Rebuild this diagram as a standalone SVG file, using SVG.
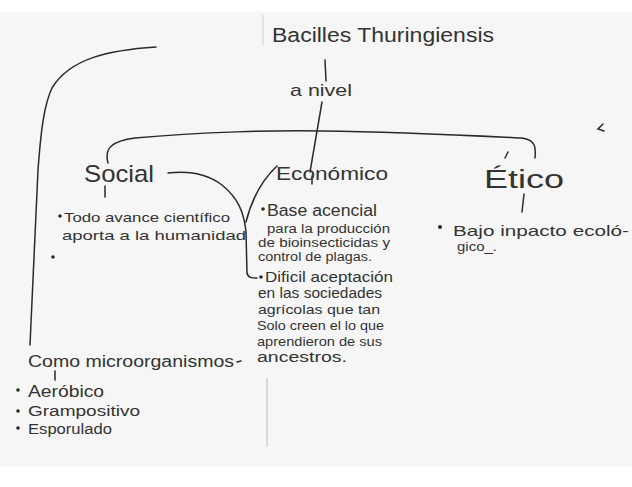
<svg xmlns="http://www.w3.org/2000/svg" width="632" height="487" viewBox="0 0 632 487">
<style>
text{font-family:"Liberation Sans","DejaVu Sans",sans-serif;fill:#333333}
.ln{fill:none;stroke:#2a2a2a;stroke-width:1.5;stroke-linecap:round}
.dot{fill:#2a2a2a}
</style>
<rect width="632" height="487" fill="#ffffff"/>
<rect x="0" y="12" width="632" height="455" fill="#f6f6f6"/>
<line x1="263" y1="15" x2="263" y2="45" stroke="#cfcfcf" stroke-width="1"/>
<line x1="267" y1="378" x2="267" y2="447" stroke="#c8c8c8" stroke-width="1.2"/>

<g id="connectors">
  <path class="ln" d="M156,47 C110,50 70,58 52,88 C44,105 41,130 38,170 L30,345"/>
  <path class="ln" d="M325,60 L326,81"/>
  <path class="ln" d="M322,102 L310,172"/>
  <path class="ln" d="M108,163 C104,148 112,141 135,138 C200,132 280,130 322,131 C400,132 480,136 522,138 C536,140 536,148 535,158"/>
  <path class="ln" d="M168,173 C185,171 205,172 222,185 C238,198 244,212 246,232 L247,273 C248,278 252,278 257,278"/>
  <path class="ln" d="M277,166 C262,180 252,198 246,222"/>
  <path class="ln" d="M105,186 L105,197"/>
  <path class="ln" d="M312,176 L312,184"/>
  <path class="ln" d="M524,194 L522,212"/>
  <path class="ln" d="M55,371 L55,380"/>
  <path class="ln" d="M237,362 L241,361"/>
  <path class="ln" d="M603,124 L598,129 L604,131"/>
  <path class="ln" d="M505,158 L508,152"/>
</g>

<g id="title"><text x="272" y="42" font-size="20" textLength="222" lengthAdjust="spacingAndGlyphs">Bacilles Thuringiensis</text></g>
<g id="anivel"><text x="290" y="96" font-size="17" textLength="62" lengthAdjust="spacingAndGlyphs">a nivel</text></g>

<g id="social"><text x="84" y="182" font-size="24" textLength="70" lengthAdjust="spacingAndGlyphs">Social</text></g>
<g id="economico"><text x="276" y="180" font-size="18" textLength="112" lengthAdjust="spacingAndGlyphs">Económico</text></g>
<g id="etico"><text x="484" y="188" font-size="26" textLength="80" lengthAdjust="spacingAndGlyphs">Ético</text></g>

<g id="social-items">
  <circle class="dot" cx="60" cy="216" r="1.8"/>
  <text x="64" y="222" font-size="13" textLength="166" lengthAdjust="spacingAndGlyphs">Todo avance científico</text>
  <text x="62" y="240" font-size="13" textLength="184" lengthAdjust="spacingAndGlyphs">aporta a la humanidad</text>
  <circle class="dot" cx="53" cy="257" r="1.8"/>
</g>

<g id="economico-item1">
  <circle class="dot" cx="263" cy="209" r="1.8"/>
  <text x="267" y="216" font-size="16" textLength="110" lengthAdjust="spacingAndGlyphs">Base acencial</text>
  <text x="267" y="233" font-size="12" textLength="123" lengthAdjust="spacingAndGlyphs">para la producción</text>
  <text x="258" y="247" font-size="12" textLength="132" lengthAdjust="spacingAndGlyphs">de bioinsecticidas y</text>
  <text x="258" y="261" font-size="12" textLength="114" lengthAdjust="spacingAndGlyphs">control de plagas.</text>
</g>

<g id="economico-item2">
  <circle class="dot" cx="261" cy="277" r="1.8"/>
  <text x="265" y="282" font-size="15" textLength="128" lengthAdjust="spacingAndGlyphs">Dificil aceptación</text>
  <text x="258" y="298" font-size="14" textLength="124" lengthAdjust="spacingAndGlyphs">en las sociedades</text>
  <text x="258" y="314" font-size="13" textLength="122" lengthAdjust="spacingAndGlyphs">agrícolas que tan</text>
  <text x="257" y="330" font-size="13" textLength="127" lengthAdjust="spacingAndGlyphs">Solo creen el lo que</text>
  <text x="257" y="346" font-size="13" textLength="125" lengthAdjust="spacingAndGlyphs">aprendieron de sus</text>
  <text x="257" y="362" font-size="14" textLength="90" lengthAdjust="spacingAndGlyphs">ancestros.</text>
</g>

<g id="etico-item">
  <circle class="dot" cx="440" cy="227" r="2"/>
  <text x="453" y="236" font-size="15" textLength="176" lengthAdjust="spacingAndGlyphs">Bajo inpacto ecoló-</text>
  <text x="457" y="251" font-size="13" textLength="40" lengthAdjust="spacingAndGlyphs">gico_.</text>
</g>

<g id="microorganismo">
  <text x="28" y="367" font-size="16" textLength="206" lengthAdjust="spacingAndGlyphs">Como microorganismos</text>
</g>

<g id="microorganismo-items">
  <circle class="dot" cx="18" cy="390" r="1.8"/>
  <text x="28" y="397" font-size="16" textLength="76" lengthAdjust="spacingAndGlyphs">Aeróbico</text>
  <circle class="dot" cx="18" cy="411" r="1.8"/>
  <text x="28" y="416" font-size="14" textLength="112" lengthAdjust="spacingAndGlyphs">Grampositivo</text>
  <circle class="dot" cx="18" cy="428" r="1.8"/>
  <text x="28" y="434" font-size="14" textLength="84" lengthAdjust="spacingAndGlyphs">Esporulado</text>
</g>
</svg>
